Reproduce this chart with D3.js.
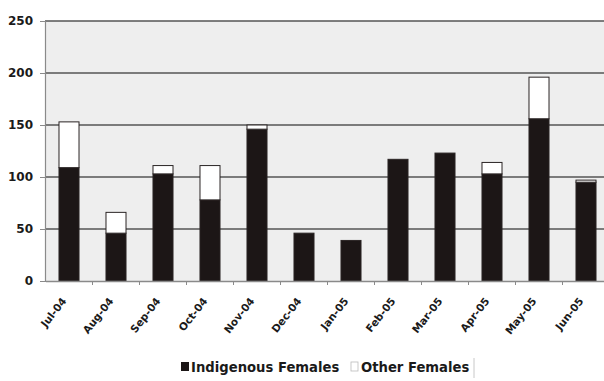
<!DOCTYPE html>
<html>
<head>
<meta charset="utf-8">
<script src="https://cdn.jsdelivr.net/npm/d3@7/dist/d3.min.js"></script>
<style>
  html, body { margin: 0; padding: 0; background: #fff; }
  svg { display: block; }
</style>
</head>
<body>
<svg id="chart" width="604" height="381"></svg>
<script>
// Monthly counts, July 2004 – June 2005
const months = ["Jul-04","Aug-04","Sep-04","Oct-04","Nov-04","Dec-04",
                "Jan-05","Feb-05","Mar-05","Apr-05","May-05","Jun-05"];
const indigenousFemales = [109, 46, 103, 78, 146, 46, 39, 117, 123, 103, 156, 95];
const otherFemales      = [44, 20, 8, 33, 4, 0, 0, 0, 0, 11, 40, 2];
const yTicks = [0, 50, 100, 150, 200, 250];
const seriesNames = ["Indigenous Females", "Other Females"];

const svg = d3.select("#chart");
const font = "DejaVu Sans, Verdana, sans-serif";
const x = d3.scaleBand().domain(months).range([45.5, 609.5])
  .paddingInner(0.574).paddingOuter(0.287);
const y = d3.scaleLinear().domain([0, 250]).range([281, 21]);

// plot background
svg.append("rect")
  .attr("x", 45).attr("y", y(250))
  .attr("width", 604 - 45).attr("height", y(0) - y(250))
  .attr("fill", "#eeeeee");

// horizontal gridlines
svg.append("g").selectAll("line").data(yTicks.filter(d => d > 0)).join("line")
  .attr("x1", 45).attr("x2", 604)
  .attr("y1", d => y(d)).attr("y2", d => y(d))
  .attr("stroke", "#555").attr("stroke-width", 1.4);

// stacked bars
const rows = months.map((m, i) => ({ month: m, indigenous: indigenousFemales[i], other: otherFemales[i] }));
const stack = d3.stack().keys(["indigenous", "other"])(rows);
const fills = ["#1c1616", "#ffffff"];

stack.forEach((layer, li) => {
  svg.append("g").selectAll("rect").data(layer.filter(d => d[1] - d[0] > 0)).join("rect")
    .attr("x", d => x(d.data.month))
    .attr("y", d => y(d[1]))
    .attr("width", x.bandwidth())
    .attr("height", d => y(d[0]) - y(d[1]))
    .attr("fill", fills[li])
    .attr("stroke", "#2a2424")
    .attr("stroke-width", 1);
});

// y axis
const yAxis = d3.axisLeft(y).tickValues(yTicks).tickSize(5).tickPadding(7);
const gy = svg.append("g").attr("transform", "translate(45,0)").call(yAxis);
gy.select(".domain").attr("stroke", "#8a8a8a").attr("stroke-width", 1.2);
gy.selectAll(".tick line").attr("stroke", "#8a8a8a");
gy.selectAll("text")
  .attr("font-family", font)
  .attr("font-size", 12).attr("font-weight", "bold").attr("fill", "#1a1a1a");

// x axis with rotated month labels
const xAxis = d3.axisBottom(x).tickSize(0);
const gx = svg.append("g").attr("transform", `translate(0,${y(0)})`).call(xAxis);
gx.select(".domain").attr("stroke", "#8a8a8a").attr("stroke-width", 1.4);
gx.selectAll("text")
  .attr("font-family", font)
  .attr("font-size", 10.5).attr("font-weight", "bold").attr("fill", "#1a1a1a")
  .attr("text-anchor", "end")
  .attr("x", 0).attr("y", 0).attr("dy", "0.35em")
  .attr("transform", "translate(-5,18) rotate(-52)");

// small tick marks between categories
const step = x.step();
svg.append("g").selectAll("line").data(months.slice(1)).join("line")
  .attr("x1", d => x(d) - (step - x.bandwidth()) / 2)
  .attr("x2", d => x(d) - (step - x.bandwidth()) / 2)
  .attr("y1", y(0)).attr("y2", y(0) + 4)
  .attr("stroke", "#8a8a8a");

// legend
const legend = svg.append("g").attr("font-family", font)
  .attr("font-size", 13.2).attr("font-weight", "bold").attr("fill", "#1a1a1a");
legend.append("rect").attr("x", 181).attr("y", 362).attr("width", 8).attr("height", 9)
  .attr("fill", fills[0]);
legend.append("text").attr("x", 191).attr("y", 372).text(seriesNames[0]);
legend.append("rect").attr("x", 351).attr("y", 362).attr("width", 7).attr("height", 9)
  .attr("fill", "#fff").attr("stroke", "#bbb").attr("stroke-width", 0.8);
legend.append("text").attr("x", 361).attr("y", 372).text(seriesNames[1]);
legend.append("line").attr("x1", 474).attr("x2", 474).attr("y1", 358).attr("y2", 378)
  .attr("stroke", "#c8c8c8");
</script>
</body>
</html>
